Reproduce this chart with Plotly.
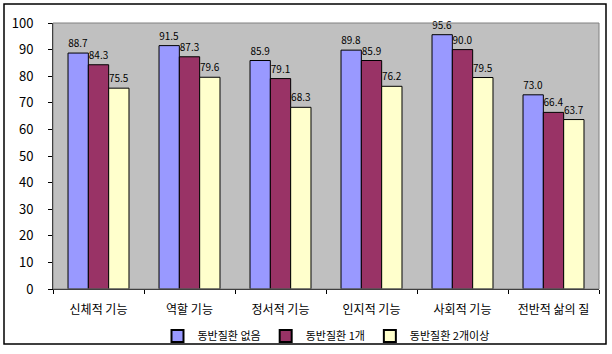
import plotly.graph_objects as go

categories = ["신체적 기능", "역할 기능", "정서적 기능", "인지적 기능", "사회적 기능", "전반적 삶의 질"]
series_names = ["동반질환 없음", "동반질환 1개", "동반질환 2개이상"]
s_none = [88.7, 91.5, 85.9, 89.8, 95.6, 73.0]
s_one = [84.3, 87.3, 79.1, 85.9, 90.0, 66.4]
s_two = [75.5, 79.6, 68.3, 76.2, 79.5, 63.7]
colors = ["#9999FF", "#993366", "#FFFFCC"]

W, H = 612, 354
L, R, T, B = 53, 13, 23, 65
pw, ph = W - L - R, H - T - B

font = "Noto Sans CJK KR, DejaVu Sans, sans-serif"

fig = go.Figure()
for name, vals, c in zip(series_names, [s_none, s_one, s_two], colors):
    fig.add_trace(go.Bar(
        x=categories, y=vals, name=name,
        marker=dict(color=c, line=dict(color="black", width=1)),
        text=[f"{v:.1f}" for v in vals], textposition="outside",
        textfont=dict(size=10, color="black", family=font),
        cliponaxis=False,
    ))

def px_x(p):
    return (p - L) / pw

def px_y(p):
    return (H - B - p) / ph

fig.update_layout(
    width=W, height=H,
    margin=dict(l=L, r=R, t=T, b=B, autoexpand=False),
    paper_bgcolor="white", plot_bgcolor="#C0C0C0",
    barmode="group", bargap=0.33, bargroupgap=0,
    font=dict(family=font, size=12, color="black"),
    showlegend=True,
    legend=dict(orientation="h", x=0.5, xanchor="center", y=px_y(336), yanchor="middle",
                font=dict(size=11), itemwidth=30, tracegroupgap=0, itemsizing="constant",
                bgcolor="rgba(0,0,0,0)"),
    xaxis=dict(showline=True, linecolor="black", linewidth=1, ticks="outside",
               tickson="boundaries", ticklen=4, tickcolor="black", showgrid=False,
               tickfont=dict(size=12), ticklabelstandoff=10, automargin=False),
    yaxis=dict(range=[0, 100], dtick=10, showline=True, linecolor="black", linewidth=1,
               ticks="outside", ticklen=4, tickcolor="black", showgrid=False,
               zeroline=False, tickfont=dict(size=13), ticklabelstandoff=12,
               automargin=False),
    shapes=[
        dict(type="rect", xref="paper", yref="paper", x0=0, x1=1, y0=0, y1=1,
             line=dict(color="#808080", width=1), layer="above"),
        dict(type="rect", xref="paper", yref="paper",
             x0=px_x(4), x1=px_x(606), y0=px_y(344), y1=px_y(4),
             line=dict(color="black", width=1.5), layer="above"),
    ],
)

fig.write_html("out.html")
